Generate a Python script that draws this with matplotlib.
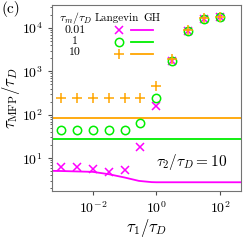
import numpy as np
import matplotlib
matplotlib.use("Agg")
import matplotlib.pyplot as plt
from matplotlib.lines import Line2D

plt.rcParams['font.family'] = 'serif'
plt.rcParams['font.serif'] = ['cmr10', 'DejaVu Serif']
plt.rcParams['mathtext.fontset'] = 'cm'
plt.rcParams['axes.formatter.use_mathtext'] = True

# Langevin simulation points
tau1 = 10.0 ** np.arange(-3, 2.01, 0.5)
lang_001 = [6.1, 6.1, 5.6, 4.7, 5.3, 18, 158, 1700, 8600, 16500, 18000]
lang_1 = [44, 44, 44, 44, 44, 64, 240, 1700, 8600, 16500, 18000]
lang_10 = [243, 243, 243, 243, 243, 243, 460, 1900, 8900, 17000, 18000]

# GH theory curves
tau1_gh = [5e-4, 1e-3, 1e-2, 10 ** -1.5, 1e-1, 10 ** -0.55, 10 ** -0.15, 1, 10, 100, 500]
gh_001 = [5.1, 5.05, 4.83, 4.27, 3.58, 2.99, 2.8, 2.78, 2.78, 2.78, 2.78]
gh_1 = [27.5] * len(tau1_gh)
gh_10 = [83] * len(tau1_gh)

ratios = ['0.01', '1', '10']
colors = ['#ff00ff', '#00ee00', '#ffa500']

fig = plt.figure(figsize=(2.49, 2.41), dpi=100)
ax = fig.add_axes([0.209, 0.207, 0.759, 0.772])

ax.plot(tau1_gh, gh_001, color=colors[0], lw=1.3)
ax.plot(tau1_gh, gh_1, color=colors[1], lw=1.3)
ax.plot(tau1_gh, gh_10, color=colors[2], lw=1.3)
ax.plot(tau1, lang_001, 'x', color=colors[0], ms=6, mew=1.1, ls='none')
ax.plot(tau1, lang_1, 'o', color=colors[1], mfc='none', ms=6, mew=1.1, ls='none')
ax.plot(tau1, lang_10, '+', color=colors[2], ms=7, mew=1.1, ls='none')

ax.set_xscale('log')
ax.set_yscale('log')
ax.set_xlim(10 ** -3.28, 10 ** 2.66)
ax.set_ylim(10 ** 0.24, 10 ** 4.53)
ax.xaxis.set_minor_locator(matplotlib.ticker.NullLocator())
ax.set_xticks([1e-2, 1, 1e2])
ax.set_yticks([1e1, 1e2, 1e3, 1e4])
ax.tick_params(labelsize=10, length=3, color='0.3')
ax.tick_params(which='minor', length=1.8, color='0.3')
for s in ax.spines.values():
    s.set_color('0.45')

ax.set_xlabel(r'$\tau_1/\tau_D$', fontsize=12, labelpad=1)
ax.set_ylabel(r'$\tau_{\rm MFP}/\tau_D$', fontsize=12, labelpad=0)
fig.text(0.005, 0.945, '(c)', fontsize=11)
ax.text(0.74, 0.155, r'$\tau_2/\tau_D = 10$', transform=ax.transAxes,
        fontsize=11, ha='center', va='center')

# legend as a small table
ax.text(0.122, 0.93, r'$\tau_m/\tau_D$', transform=ax.transAxes, fontsize=8.5, ha='center', va='center')
ax.text(0.344, 0.93, 'Langevin', transform=ax.transAxes, fontsize=8, ha='center', va='center')
ax.text(0.528, 0.93, 'GH', transform=ax.transAxes, fontsize=8, ha='center', va='center')
for i, r in enumerate(ratios):
    ax.text(0.122, 0.866 - i * 0.06, r, transform=ax.transAxes, fontsize=8.5, ha='center', va='center')

handles = [Line2D([], [], marker='x', color=colors[0], ls='none', ms=6, mew=1.1),
           Line2D([], [], marker='o', color=colors[1], mfc='none', ls='none', ms=6, mew=1.1),
           Line2D([], [], marker='+', color=colors[2], ls='none', ms=7, mew=1.1),
           Line2D([], [], color=colors[0], lw=1.3),
           Line2D([], [], color=colors[1], lw=1.3),
           Line2D([], [], color=colors[2], lw=1.3)]
ax.legend(handles, [''] * 6, ncol=2, frameon=False, fontsize=8,
          loc='upper left', bbox_to_anchor=(0.266, 0.915), handlelength=2.0,
          handletextpad=0, columnspacing=0.1, labelspacing=0.2, borderpad=0)

fig.savefig('out.png', dpi=100)
